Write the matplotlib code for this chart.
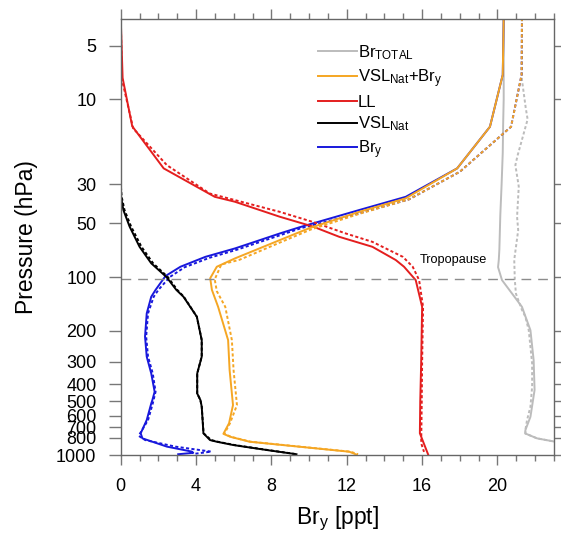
import matplotlib
matplotlib.use('Agg')
import matplotlib.pyplot as plt
from matplotlib.ticker import MultipleLocator, NullLocator, FixedLocator, FixedFormatter

# ---- data (x = Br_y in ppt, p = pressure in hPa) ----
tot_p = [3.5, 10, 14, 20, 30, 45, 70, 80, 88, 104, 147, 199, 293, 431, 610, 725, 757, 806, 851, 900]
tot_x = [20.33, 20.33, 20.3, 20.28, 20.22, 20.15, 20.1, 20.07, 20.03, 20.24, 21.3, 21.75, 21.92, 21.97, 21.75, 21.48, 21.48, 22.1, 23.3, 24.6]
tot_p_d = [3.5, 7.8, 11.2, 13, 20.7, 23.5, 31, 45.8, 54.5, 80, 104, 124, 153, 167, 199, 306, 413, 535, 636, 725, 757, 806, 851, 900]
tot_x_d = [21.3, 21.3, 21.5, 21.6, 21.07, 20.95, 21.13, 21.04, 21.1, 20.89, 20.92, 20.98, 21.3, 21.48, 21.66, 21.84, 21.84, 21.75, 21.57, 21.48, 21.48, 22.1, 23.3, 24.6]

vslbry_p = [3.5, 7.3, 14.3, 24.5, 36.1, 43, 53, 62, 78.5, 87.5, 101.5, 118, 147, 226, 333, 524, 663, 760, 790, 842, 958, 995]
vslbry_x = [20.33, 20.28, 19.6, 17.86, 15.13, 12.66, 10.03, 8.44, 6.07, 5.1, 4.75, 4.84, 5.17, 5.7, 5.78, 5.96, 5.75, 5.45, 5.82, 6.84, 12.13, 12.52]
vslbry_p_d = [3.5, 7.3, 14.3, 25.6, 36.6, 44, 54, 63, 80, 85, 103, 120, 147, 226, 333, 524, 663, 760, 790, 842, 958, 990]
vslbry_x_d = [21.3, 21.28, 20.72, 18.0, 15.3, 12.7, 10.1, 8.6, 6.3, 5.34, 4.99, 5.1, 5.55, 5.9, 5.99, 6.17, 5.8, 5.5, 5.85, 6.9, 12.2, 12.6]

ll_p = [3.5, 7.6, 14.2, 24.5, 35.4, 37.7, 45.8, 52, 59.4, 67.6, 80.2, 87.5, 104, 147, 300, 500, 755, 1000]
ll_x = [0, 0.1, 0.61, 2.28, 4.99, 6.05, 8.44, 10.2, 11.6, 13.36, 14.6, 15.04, 15.66, 16.0, 15.95, 15.9, 15.88, 16.33]
ll_p_d = [3.5, 7.8, 14.6, 23.5, 33.9, 43, 49, 56.9, 63.4, 77, 87.5, 104, 147, 300, 500, 858, 960]
ll_x_d = [0, 0.07, 0.66, 2.45, 4.72, 8.44, 10.2, 11.95, 13.36, 14.98, 15.5, 15.84, 16.05, 16.0, 15.98, 15.95, 16.1]

vsl_p = [3.5, 30, 35.4, 42, 52, 67.6, 83.7, 100, 118, 129, 167, 226, 280, 348, 451, 491, 535, 755, 824, 842, 879, 937, 990]
vsl_x = [0, 0, 0.02, 0.14, 0.47, 1.0, 1.62, 2.43, 2.95, 3.33, 4.04, 4.3, 4.3, 4.06, 4.06, 4.23, 4.3, 4.39, 4.74, 5.1, 5.98, 7.74, 9.33]
vsl_x_d = [0, 0, 0.05, 0.2, 0.55, 1.1, 1.72, 2.5, 3.0, 3.35, 4.04, 4.3, 4.3, 4.06, 4.06, 4.23, 4.3, 4.4, 4.8, 5.15, 6.05, 7.8, 9.35]

bry_p = [3.5, 7.3, 14.3, 24.5, 35.4, 42, 52.5, 56.9, 69, 77, 87.5, 98.6, 118, 129, 160, 216, 280, 348, 441, 491, 513, 636, 755, 806, 897, 957, 972, 990]
bry_x = [20.33, 20.28, 19.6, 17.86, 15.13, 12.66, 9.49, 8.44, 6.07, 4.49, 3.17, 2.38, 1.85, 1.62, 1.38, 1.29, 1.38, 1.62, 1.8, 1.68, 1.62, 1.38, 1.06, 1.15, 2.45, 3.78, 3.85, 3.05]
bry_p_d = [3.5, 7.3, 14.3, 25.6, 36.6, 44, 53, 58, 70, 78, 88, 100, 118, 129, 160, 216, 280, 348, 441, 513, 636, 780, 824, 897, 957, 985]
bry_x_d = [21.3, 21.28, 20.72, 18.0, 15.3, 12.6, 9.6, 8.5, 6.2, 4.7, 3.4, 2.6, 2.0, 1.75, 1.45, 1.35, 1.45, 1.7, 1.85, 1.7, 1.45, 0.95, 1.3, 2.9, 4.8, 3.9]

tropopause_p = 103
ytick_vals = [5, 10, 30, 50, 100, 200, 300, 400, 500, 600, 700, 800, 1000]
ytick_labels = [str(v) for v in ytick_vals]
labels = ['Br$_\\mathrm{TOTAL}$', 'VSL$_\\mathrm{Nat}$+Br$_\\mathrm{y}$', 'LL',
          'VSL$_\\mathrm{Nat}$', 'Br$_\\mathrm{y}$']

c_gray = '#bcbcbc'
c_orange = '#f5a623'
c_red = '#e41e1e'
c_black = '#000000'
c_blue = '#1818dc'


def main():
    plt.rcParams['font.family'] = ['Liberation Sans', 'DejaVu Sans']
    plt.rcParams['mathtext.fontset'] = 'custom'
    plt.rcParams['mathtext.rm'] = 'Liberation Sans'
    plt.rcParams['mathtext.it'] = 'Liberation Sans:italic'

    fig = plt.figure(figsize=(5.61, 5.33), dpi=100)
    ax = fig.add_axes([0.2152, 0.1463, 0.7723, 0.8175])

    lw = 1.4
    dash = (0, (1.6, 1.2))

    h_tot, = ax.plot(tot_x, tot_p, color=c_gray, lw=lw)
    ax.plot(tot_x_d, tot_p_d, color=c_gray, lw=lw, ls=dash)
    h_bry, = ax.plot(bry_x, bry_p, color=c_blue, lw=lw)
    ax.plot(bry_x_d, bry_p_d, color=c_blue, lw=lw, ls=dash)
    h_vsl, = ax.plot(vsl_x, vsl_p, color=c_black, lw=lw)
    ax.plot(vsl_x_d, vsl_p, color=c_black, lw=lw, ls=dash)
    h_ll, = ax.plot(ll_x, ll_p, color=c_red, lw=lw)
    ax.plot(ll_x_d, ll_p_d, color=c_red, lw=lw, ls=dash)
    h_vb, = ax.plot(vslbry_x, vslbry_p, color=c_orange, lw=lw)
    ax.plot(vslbry_x_d, vslbry_p_d, color=c_orange, lw=lw, ls=dash)

    ax.axhline(tropopause_p, color='#8c8c8c', lw=1.0, dashes=(7, 5))
    ax.text(15.9, 83, 'Tropopause', fontsize=9.2)

    ax.set_yscale('log')
    ax.set_ylim(1000, 3.56)
    ax.set_xlim(0, 23)

    ax.yaxis.set_major_locator(FixedLocator(ytick_vals))
    ax.yaxis.set_major_formatter(FixedFormatter(ytick_labels))
    ax.yaxis.set_minor_locator(NullLocator())
    ax.xaxis.set_major_locator(MultipleLocator(4))
    ax.xaxis.set_minor_locator(MultipleLocator(1))

    for s in ax.spines.values():
        s.set_color('#666666')
        s.set_linewidth(1.0)
    ax.tick_params(which='both', direction='out', color='#777777', width=1.0,
                   top=True, right=True, labelsize=13)
    ax.tick_params(axis='y', which='major', length=8.5, pad=9)
    ax.tick_params(axis='x', which='major', length=7.5, pad=9)
    ax.tick_params(axis='x', which='minor', length=4)

    ax.set_ylabel('Pressure (hPa)', fontsize=16.5, labelpad=13)
    ax.set_xlabel('Br$_\\mathrm{y}$ [ppt]', fontsize=16.5, labelpad=7)

    ax.legend([h_tot, h_vb, h_ll, h_vsl, h_bry], labels, loc='upper left',
              bbox_to_anchor=(0.455, 0.945), frameon=False, fontsize=12,
              handlelength=2.34, handletextpad=0.05, labelspacing=0.3,
              borderpad=0, borderaxespad=0)

    fig.savefig('out.png', dpi=100)


if __name__ == '__main__':
    main()
